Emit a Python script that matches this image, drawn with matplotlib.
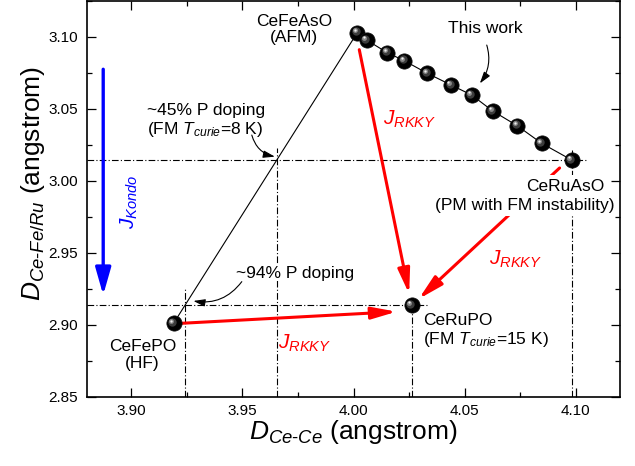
import matplotlib
matplotlib.use('Agg')
import matplotlib.pyplot as plt
from matplotlib.ticker import MultipleLocator, AutoMinorLocator, FormatStrFormatter
from matplotlib.transforms import offset_copy

plt.rcParams['font.family'] = ['Liberation Sans', 'DejaVu Sans']
plt.rcParams['mathtext.fontset'] = 'custom'
plt.rcParams['mathtext.rm'] = 'Liberation Sans'
plt.rcParams['mathtext.it'] = 'Liberation Sans:italic'
plt.rcParams['mathtext.bf'] = 'Liberation Sans:bold'

# "This work" series: CeFeAsO -> CeRuAsO (Ru substitution)
work_x = [4.0017, 4.0059, 4.0152, 4.0229, 4.0332, 4.0439, 4.0532, 4.0627, 4.0737, 4.0847, 4.0982]
work_y = [3.1030, 3.0979, 3.0891, 3.0835, 3.0748, 3.0667, 3.0597, 3.0486, 3.0384, 3.0262, 3.0146]

# reference compounds (D_Ce-Ce, D_Ce-Fe/Ru)
cefeaso = (work_x[0], work_y[0])
ceruaso = (work_x[-1], work_y[-1])
cefepo = (3.9190, 2.9012)
cerupo = (4.0262, 2.9139)

xlim = (3.88, 4.12)
ylim = (2.85, 3.125)


def cross_x(y):
    """x where the CeFePO - CeFeAsO line crosses height y"""
    t = (y - cefepo[1]) / (cefeaso[1] - cefepo[1])
    return cefepo[0] + t * (cefeaso[0] - cefepo[0])


fig = plt.figure(figsize=(6.35, 4.66), dpi=100)
ax = fig.add_axes([87 / 635, 1 - 397 / 466, 533 / 635, 396 / 466])
ax.set_xlim(*xlim)
ax.set_ylim(*ylim)

dd = dict(color='black', lw=0.8, ls=(0, (6, 2, 1, 2)), zorder=1)

# guide lines through CeRuAsO and CeRuPO
ax.plot([xlim[0], ceruaso[0] + 0.0068], [ceruaso[1]] * 2, **dd)
ax.plot([ceruaso[0]] * 2, [ylim[0], ceruaso[1] + 0.007], **dd)
ax.plot([xlim[0], cerupo[0] + 0.0068], [cerupo[1]] * 2, **dd)
ax.plot([cerupo[0]] * 2, [ylim[0], cerupo[1]], **dd)
x45 = cross_x(ceruaso[1])
x94 = cross_x(cerupo[1])
ax.plot([x45] * 2, [ylim[0], ceruaso[1] + 0.008], **dd)
ax.plot([x94] * 2, [ylim[0], cerupo[1] + 0.011], **dd)

# solid connection lines
ax.plot([cefepo[0], cefeaso[0]], [cefepo[1], cefeaso[1]], color='black', lw=0.8, zorder=2)
ax.plot(work_x, work_y, color='black', lw=0.8, zorder=2)


def balls(xs, ys):
    ax.plot(xs, ys, 'o', ms=11, mfc='black', mec='#111111', mew=0.5, zorder=6, ls='none')
    for dx, ms, c in [(-1.0, 6, '#3c3c3c'), (-1.6, 3.5, '#8a8a8a'), (-1.9, 1.6, '#f0f0f0')]:
        tr = offset_copy(ax.transData, fig=fig, x=dx, y=-dx, units='points')
        ax.plot(xs, ys, 'o', ms=ms, mfc=c, mec='none', transform=tr, zorder=7, ls='none')


balls(work_x, work_y)
balls([cefepo[0], cerupo[0]], [cefepo[1], cerupo[1]])


def arrow(p0, p1, off0, off1, color, lw, hl, hw, rad=0.0):
    tr0 = offset_copy(ax.transData, fig=fig, x=off0[0], y=off0[1], units='dots')
    tr1 = offset_copy(ax.transData, fig=fig, x=off1[0], y=off1[1], units='dots')
    ax.annotate('', xy=p1, xycoords=tr1, xytext=p0, textcoords=tr0,
                arrowprops=dict(arrowstyle=f'-|>,head_length={hl},head_width={hw}',
                                color=color, lw=lw, shrinkA=0, shrinkB=0,
                                mutation_scale=10, connectionstyle=f'arc3,rad={rad}'),
                zorder=3)


# J_RKKY arrows
arrow(cefeaso, cerupo, (2, -17), (-2.5, 11), 'red', 2.2, 1.5, 0.36)
arrow(ceruaso, cerupo, (-12, -8), (7, 6), 'red', 2.2, 1.5, 0.36)
arrow(cefepo, cerupo, (8.4, 0), (-15, -6.7), 'red', 2.2, 1.5, 0.36)

# J_Kondo arrow
arrow((3.8873, 3.0776), (3.8873, 2.9208), (0, 0), (0, 0), 'blue', 2.4, 1.65, 0.47)

# thin pointer arrows
arrow((4.0600, 3.0944), (4.0569, 3.0678), (0, 0), (0, 0), 'black', 0.8, 0.7, 0.22, rad=-0.25)
arrow((3.9542, 3.0319), (3.9646, 3.0169), (0, 0), (0, 0), 'black', 0.8, 0.7, 0.22, rad=0.3)
arrow((3.9497, 2.9301), (3.9279, 2.9167), (0, 0), (0, 0), 'black', 0.8, 0.7, 0.22, rad=-0.3)

white = dict(facecolor='white', edgecolor='none', pad=0.5)
white_big = dict(facecolor='white', edgecolor='none', pad=2.5)
fs = 12.5
ax.text(3.9733, 3.1052, 'CeFeAsO\n(AFM)', fontsize=fs, ha='center', va='center',
        linespacing=1.05, bbox=white, zorder=8)
ax.text(4.0592, 3.1056, 'This work', fontsize=fs, ha='center', va='center', zorder=8)
ax.text(3.9070, 3.0417, '~45% P doping\n(FM $T_{curie}$=8 K)', fontsize=fs, ha='left',
        va='center', linespacing=1.1, zorder=8)
ax.text(3.9471, 2.9361, '~94% P doping', fontsize=fs, ha='left', va='center', bbox=white, zorder=8)
ax.text(4.0952, 2.9962, 'CeRuAsO', fontsize=fs, ha='center', va='center', bbox=white_big, zorder=8)
ax.text(4.0772, 2.9830, '(PM with FM instability)', fontsize=fs, ha='center', va='center',
        bbox=white_big, zorder=8)
ax.text(3.9050, 2.8792, 'CeFePO\n(HF)', fontsize=fs, ha='center', va='center',
        linespacing=1.1, zorder=8)
ax.text(4.0313, 2.8959, 'CeRuPO\n(FM $T_{curie}$=15 K)', fontsize=fs, ha='left', va='center',
        linespacing=1.1, zorder=8)

# exchange labels
ax.text(3.8989, 2.9854, '$J_{Kondo}$', color='blue', fontsize=15, rotation=90,
        ha='center', va='center', zorder=8)
for lx, ly in [(4.0254, 3.0431), (3.9779, 2.8872), (4.0732, 2.9458)]:
    ax.text(lx, ly, '$J_{RKKY}$', color='red', fontsize=15, ha='center', va='center', zorder=8)

# axes styling
ax.xaxis.set_major_locator(MultipleLocator(0.05))
ax.yaxis.set_major_locator(MultipleLocator(0.05))
ax.xaxis.set_minor_locator(AutoMinorLocator(2))
ax.yaxis.set_minor_locator(AutoMinorLocator(2))
ax.xaxis.set_major_formatter(FormatStrFormatter('%.2f'))
ax.yaxis.set_major_formatter(FormatStrFormatter('%.2f'))
ax.tick_params(which='both', direction='in', top=True, right=True, width=0.9, labelsize=11)
ax.tick_params(which='major', length=6.3)
ax.tick_params(which='minor', length=3.3)
ax.tick_params(axis='y', pad=6.5)
ax.tick_params(axis='x', pad=5)
for sp in ax.spines.values():
    sp.set_linewidth(1.2)

ax.set_xlabel(r'$D_{Ce\text{-}Ce}$ (angstrom)', fontsize=19)
ax.set_ylabel(r'$D_{Ce\text{-}Fe/Ru}$ (angstrom)', fontsize=19)
ax.xaxis.set_label_coords(0.5, -0.053)
ax.yaxis.set_label_coords(-0.075, 0.54)

fig.savefig('out.png', dpi=100)
